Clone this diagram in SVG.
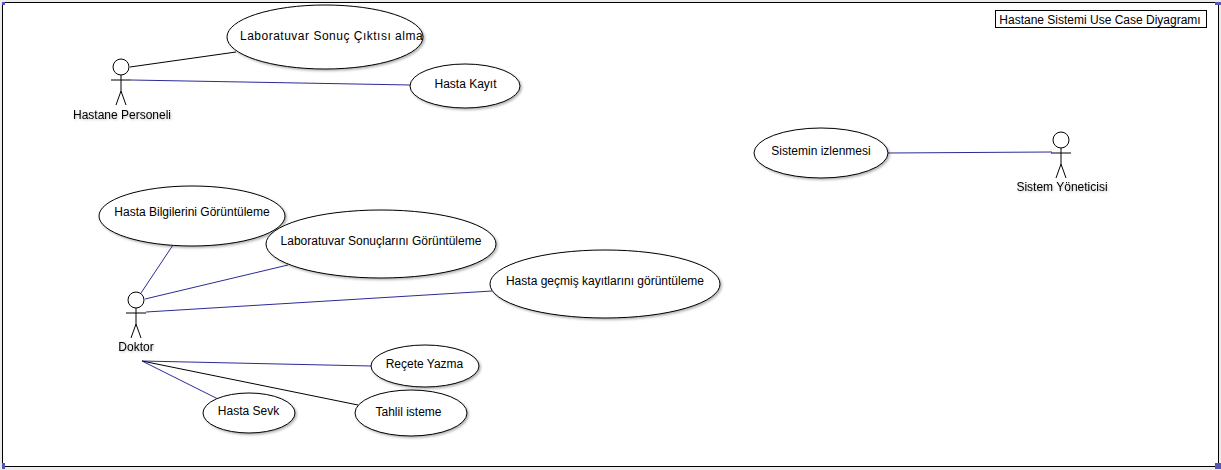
<svg xmlns="http://www.w3.org/2000/svg" width="1221" height="470" viewBox="0 0 1221 470">
<defs>
<filter id="sh" x="-10%" y="-10%" width="125%" height="125%"><feDropShadow dx="1.500" dy="1.500" stdDeviation="1" flood-color="#000" flood-opacity="0.3"/></filter>
<filter id="ts" x="-5%" y="-20%" width="110%" height="150%"><feDropShadow dx="1" dy="1" stdDeviation="1" flood-color="#000" flood-opacity="0.25"/></filter>
<g id="actor" fill="none" stroke="#000" stroke-width="1">
<circle cx="0" cy="0" r="8" fill="#fff"/>
<path d="M0 8V24M-10 13H10M0 24L-5 38M0 24L5 38"/>
</g>
</defs>
<style>
text{font-family:"Liberation Sans",Arial,sans-serif;font-size:12px;fill:#000}
.uc{fill:#fff;stroke:#000;stroke-width:1;filter:url(#sh)}
.b{stroke:#2b2b96;stroke-width:1;fill:none}
.k{stroke:#000;stroke-width:1;fill:none}
.m{text-anchor:middle}
.a{filter:url(#ts)}
</style>
<rect x="0" y="0" width="1221" height="470" fill="#ececec"/>
<g id="frame">
<rect x="2.500" y="2.500" width="1216" height="464" fill="#fff" stroke="#000" stroke-width="1"/>
<rect x="2" y="2" width="3" height="3" fill="#5555b5"/>
<rect x="1215" y="2" width="6" height="3" fill="#5555b5"/>
<rect x="2" y="463" width="3" height="6" fill="#5555b5"/>
<rect x="1215" y="463" width="6" height="6" fill="#5555b5"/>
</g>
<g id="connectors">
<path class="k" d="M130 67L236 52"/>
<path class="b" d="M131 80L411 85"/>
<path class="b" d="M888 153L1052 152"/>
<path class="b" d="M173 245L141 293"/>
<path class="b" d="M145 299L288 265"/>
<path class="b" d="M146 312L492 291"/>
<path class="b" d="M142 361L371 366"/>
<path class="k" d="M142 361L358 405"/>
<path class="b" d="M142 361L220 400"/>
</g>
<g id="uc-lab"><ellipse class="uc" cx="325" cy="37" rx="98" ry="32"/><text x="240" y="40" letter-spacing="0.500">Laboratuvar Sonuç Çıktısı alma</text></g>
<g id="uc-kayit"><ellipse class="uc" cx="465" cy="86" rx="55" ry="22"/><text class="m" x="465.500" y="88">Hasta Kayıt</text></g>
<g id="uc-izleme"><ellipse class="uc" cx="821" cy="153" rx="67" ry="25"/><text class="m" x="821" y="155">Sistemin izlenmesi</text></g>
<g id="uc-bilgi"><ellipse class="uc" cx="192" cy="216" rx="93" ry="30"/><text class="m" x="192" y="216">Hasta Bilgilerini Görüntüleme</text></g>
<g id="uc-sonuc"><ellipse class="uc" cx="381" cy="244" rx="115" ry="34"/><text class="m" x="381" y="245">Laboratuvar Sonuçlarını Görüntüleme</text></g>
<g id="uc-gecmis"><ellipse class="uc" cx="605" cy="284" rx="115" ry="34"/><text class="m" x="605" y="285">Hasta geçmiş kayıtlarını görüntüleme</text></g>
<g id="uc-recete"><ellipse class="uc" cx="425" cy="366" rx="54" ry="21"/><text class="m" x="424.500" y="368">Reçete Yazma</text></g>
<g id="uc-sevk"><ellipse class="uc" cx="249" cy="413" rx="46" ry="20"/><text class="m" x="248.500" y="415">Hasta Sevk</text></g>
<g id="uc-tahlil"><ellipse class="uc" cx="411" cy="413" rx="56" ry="23"/><text class="m" x="408.500" y="416">Tahlil isteme</text></g>
<g id="actor-personel"><use href="#actor" x="121" y="67"/><text class="m a" x="122" y="119">Hastane Personeli</text></g>
<g id="actor-doktor"><use href="#actor" x="136" y="300"/><text class="m a" x="136" y="351">Doktor</text></g>
<g id="actor-yonetici"><use href="#actor" x="1061" y="140"/><text class="m a" x="1062" y="191">Sistem Yöneticisi</text></g>
<g id="title"><rect x="995.500" y="10.500" width="211" height="17" fill="#fff" stroke="#000"/><text class="m" x="1100" y="24">Hastane Sistemi Use Case Diyagramı</text></g>
</svg>
